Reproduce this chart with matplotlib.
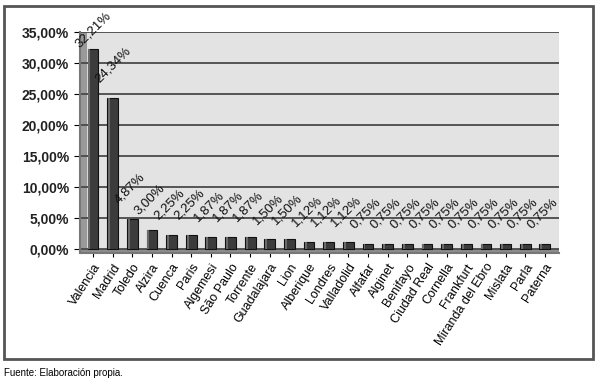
import numpy as np
import matplotlib.pyplot as plt
from matplotlib.patches import Rectangle

plt.rcParams['font.family'] = ['Liberation Sans', 'DejaVu Sans']

cities = ['Valencia', 'Madrid', 'Toledo', 'Alzira', 'Cuenca', 'Paris', 'Algemesi',
          'São Paulo', 'Torrente', 'Guadalajara', 'Lion', 'Alberique', 'Londres',
          'Valladolid', 'Alfafar', 'Alginet', 'Benifayo', 'Ciudad Real', 'Cornella',
          'Frankfurt', 'Miranda del Ebro', 'Mislata', 'Parla', 'Paterna']
values = [32.21, 24.34, 4.87, 3.00, 2.25, 2.25, 1.87, 1.87, 1.87, 1.50, 1.50,
          1.12, 1.12, 1.12, 0.75, 0.75, 0.75, 0.75, 0.75, 0.75, 0.75, 0.75, 0.75, 0.75]
yticks = [0, 5, 10, 15, 20, 25, 30, 35]

fig = plt.figure(figsize=(5.99, 3.84), dpi=100)

# outer frame
fig.patches.append(Rectangle((4/599, 1-359/384), 589/599, 353/384, transform=fig.transFigure,
                             fill=False, edgecolor='#555555', lw=2))

ax = fig.add_axes([80/599, 1-253/384, 479/599, 221/384])
ax.set_facecolor('#e3e3e3')
x = np.arange(len(cities))

# pseudo 3D wall and floor
ax.axvspan(-0.66, -0.28, color='#9a9a9a', zorder=1, lw=0)
ax.axhspan(-0.7, 0, color='#8c8c8c', zorder=1, lw=0)

ax.bar(x, values, width=0.55, color='#3c3c3c', edgecolor='#111111', lw=0.8, zorder=3)
ax.bar(x - 0.18, values, width=0.1, color='#6a6a6a', lw=0, zorder=4)

ax.set_xlim(-0.66, 23.72)
ax.set_ylim(-0.7, 35)
ax.set_yticks(yticks)
ax.set_yticklabels(['%d,00%%' % v for v in yticks], fontsize=10, fontweight='bold', color='#222222')
ax.yaxis.grid(True, color='#4a4a4a', lw=1.3, zorder=2)
ax.set_xticks(x)
ax.set_xticklabels(cities, rotation=57, ha='right', rotation_mode='anchor', fontsize=9)
ax.tick_params(axis='x', length=3, pad=3)
ax.tick_params(axis='y', length=4, pad=4)
for s in ['top', 'right']:
    ax.spines[s].set_visible(False)
ax.spines['left'].set_color('#777777')
ax.spines['left'].set_linewidth(1.5)
ax.spines['bottom'].set_color('#777777')
ax.spines['bottom'].set_linewidth(1.5)

for i, v in enumerate(values):
    lab = ('%.2f%%' % v).replace('.', ',')
    ax.text(i - 0.68, min(v + 2.4, 32.4), lab, rotation=45, rotation_mode='anchor',
            ha='left', va='baseline', fontsize=9.5, color='#111111', zorder=5)

fig.text(4/599, 1-373/384, 'Fuente: Elaboración propia.', fontsize=7, va='center')

fig.savefig('out.png', dpi=100)
